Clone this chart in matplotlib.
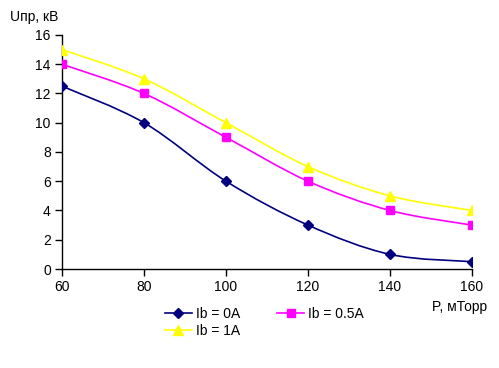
import matplotlib
matplotlib.use("Agg")
import matplotlib.pyplot as plt
import numpy as np
from matplotlib.path import Path
from matplotlib.patches import PathPatch

plt.rcParams['font.family'] = ['Liberation Sans', 'DejaVu Sans']

pressure = [60, 80, 100, 120, 140, 160]
u_0a = [12.5, 10, 6, 3, 1, 0.5]
u_05a = [14, 12, 9, 6, 4, 3]
u_1a = [15, 13, 10, 7, 5, 4]

series = [
    ("Ib = 0A", u_0a, "#000080", "D", 5),
    ("Ib = 0.5A", u_05a, "#FF00FF", "s", 5.5),
    ("Ib = 1A", u_1a, "#FFFF00", "^", 6.5),
]


def smooth_path(x, y):
    # excel-like smoothed line: cubic bezier through the points
    x = np.asarray(x, float)
    y = np.asarray(y, float)
    n = len(x)
    verts = [(x[0], y[0])]
    codes = [Path.MOVETO]
    for i in range(n - 1):
        p0 = i - 1 if i > 0 else i
        p3 = i + 2 if i + 2 < n else i + 1
        c1 = (x[i] + (x[i + 1] - x[p0]) / 6, y[i] + (y[i + 1] - y[p0]) / 6)
        c2 = (x[i + 1] - (x[p3] - x[i]) / 6, y[i + 1] - (y[p3] - y[i]) / 6)
        verts += [c1, c2, (x[i + 1], y[i + 1])]
        codes += [Path.CURVE4] * 3
    return Path(verts, codes)


fig = plt.figure(figsize=(4.99, 3.68), dpi=100)
ax = fig.add_axes([0.1242, 0.269, 0.8218, 0.636])

handles = []
for label, vals, color, marker, ms in series:
    ax.add_patch(PathPatch(smooth_path(pressure, vals), facecolor="none",
                           edgecolor=color, lw=1.2, zorder=2))
    ax.plot(pressure, vals, linestyle="none", marker=marker, color=color,
            markersize=ms, zorder=3)
    h, = ax.plot([], [], color=color, marker=marker, markersize=ms, lw=1.2, label=label)
    handles.append(h)

ax.set_xlim(60, 160)
ax.set_ylim(0, 16)
ax.set_xticks([60, 80, 100, 120, 140, 160])
ax.set_yticks([0, 2, 4, 6, 8, 10, 12, 14, 16])
ax.spines['top'].set_visible(False)
ax.spines['right'].set_visible(False)
ax.tick_params(direction="out", length=5, width=1, labelsize=10, pad=3)
ax.spines['left'].set_linewidth(1)
ax.spines['bottom'].set_linewidth(1)

fig.text(10 / 499, 1 - 17 / 368, "Uпр, кВ", fontsize=10, ha="left", va="center")
fig.text(460 / 499, 1 - 307 / 368, "P, мТорр", fontsize=10, ha="center", va="center")

# column-major fill: 0A and 1A in first column, 0.5A in second
order = [handles[0], handles[2], handles[1]]
fig.legend(handles=order, loc="upper left", bbox_to_anchor=(158 / 499, 1 - 300 / 368),
           ncol=2, frameon=False, fontsize=10, handlelength=1.95, handletextpad=0.25,
           columnspacing=2.7, labelspacing=0.2, borderpad=0)

fig.savefig("out.png", dpi=100)
